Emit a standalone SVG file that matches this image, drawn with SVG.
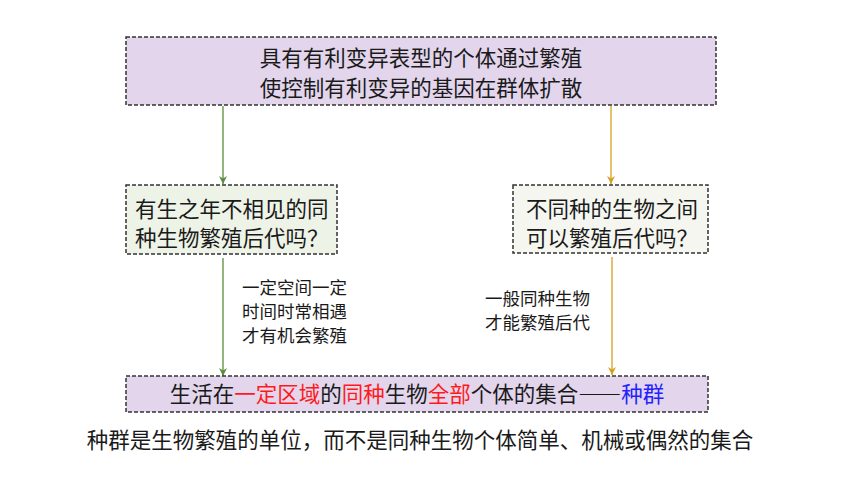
<svg xmlns="http://www.w3.org/2000/svg" width="860" height="484" viewBox="0 0 860 484" xml:lang="zh-CN" lang="zh-CN">
<defs>
<style>
.t{font-family:"Noto Sans CJK SC","Noto Sans",sans-serif;fill:#1a1a1a}
.big{font-size:21.5px}
.sm{font-size:17.5px}
.box{stroke:#333;stroke-width:1.5;stroke-dasharray:4,2}
.r{fill:#ff1a1a}
.b{fill:#2222ff}
.fw{font-feature-settings:"fwid"}
</style>
<marker id="ag" viewBox="0 0 10 10" refX="10" refY="5" markerWidth="8" markerHeight="8" orient="auto" markerUnits="userSpaceOnUse">
<path d="M0,0 L10,5 L0,10 L3,5 z" fill="#5b8c3a"/>
</marker>
<marker id="ao" viewBox="0 0 10 10" refX="10" refY="5" markerWidth="8" markerHeight="8" orient="auto" markerUnits="userSpaceOnUse">
<path d="M0,0 L10,5 L0,10 L3,5 z" fill="#d6a01e"/>
</marker>
</defs>
<rect width="860" height="484" fill="#fff"/>
<g id="connectors">
<line x1="223" y1="106" x2="223" y2="184" stroke="#5b8c3a" stroke-width="1.3" marker-end="url(#ag)"/>
<line x1="611" y1="106" x2="611" y2="184" stroke="#d6a01e" stroke-width="1.3" marker-end="url(#ao)"/>
<line x1="223" y1="258" x2="223" y2="376" stroke="#5b8c3a" stroke-width="1.3" marker-end="url(#ag)"/>
<line x1="612" y1="257" x2="612" y2="375" stroke="#d6a01e" stroke-width="1.3" marker-end="url(#ao)"/>
<g id="label-left" class="t sm">
<text x="242" y="294">一定空间一定</text>
<text x="242" y="318">时间时常相遇</text>
<text x="242" y="342">才有机会繁殖</text>
</g>
<g id="label-right" class="t sm">
<text x="485" y="305">一般同种生物</text>
<text x="485" y="329">才能繁殖后代</text>
</g>
</g>
<g id="top">
<rect class="box" x="126" y="37" width="590" height="68" fill="#e2d5ec"/>
<text class="t big" x="421" y="66" text-anchor="middle">具有有利变异表型的个体通过繁殖</text>
<text class="t big" x="421" y="96" text-anchor="middle">使控制有利变异的基因在群体扩散</text>
</g>
<g id="left">
<rect class="box" x="126" y="185" width="211" height="69" fill="#edf3e6"/>
<text class="t big" x="135" y="217">有生之年不相见的同</text>
<text class="t big fw" x="135" y="246">种生物繁殖后代吗？</text>
</g>
<g id="right">
<rect class="box" x="513" y="185" width="195" height="68" fill="#f4f6ef"/>
<text class="t big" x="526" y="217">不同种的生物之间</text>
<text class="t big fw" x="526" y="246">可以繁殖后代吗？</text>
</g>
<g id="bottom">
<rect class="box" x="126" y="376" width="582" height="36" fill="#e2d5ec"/>
<text class="t big fw" x="417" y="402" text-anchor="middle">生活在<tspan class="r">一定区域</tspan>的<tspan class="r">同种</tspan>生物<tspan class="r">全部</tspan>个体的集合——<tspan class="b">种群</tspan></text>
</g>
<g id="note">
<text class="t" style="font-size:21.5px" x="420" y="448" text-anchor="middle">种群是生物繁殖的单位，而不是同种生物个体简单、机械或偶然的集合</text>
</g>
</svg>
